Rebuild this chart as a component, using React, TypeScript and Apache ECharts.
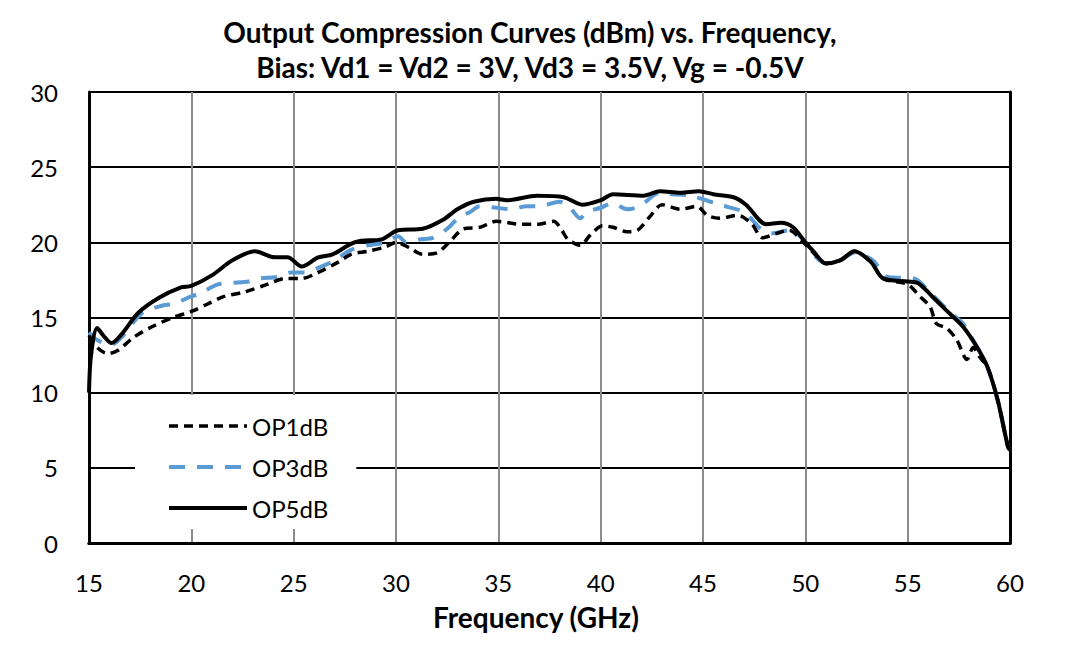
import React, { useEffect, useRef } from "react";
import * as echarts from "echarts";

const xTicks = [15, 20, 25, 30, 35, 40, 45, 50, 55, 60];
const yTicks = [0, 5, 10, 15, 20, 25, 30];

const freq5 = [15.0, 15.1, 15.4, 15.7, 16.1, 16.6, 17.4, 18.4, 19.5, 20.0, 21.0, 22.0, 23.1, 24.1, 24.7, 25.4, 26.2, 26.9, 27.8, 28.3, 29.3, 30.1, 31.3, 32.3, 33.0, 33.8, 34.9, 35.4, 36.9, 38.2, 39.1, 40.0, 40.6, 42.1, 42.9, 43.9, 44.8, 45.5, 46.5, 47.1, 48.1, 48.8, 49.4, 50.0, 50.4, 51.0, 51.7, 52.4, 53.2, 53.8, 55.0, 55.5, 56.2, 57.1, 57.7, 58.4, 58.9, 59.4, 59.9, 60.0];
const op5 = [10.0, 12.5, 14.3, 13.8, 13.3, 13.9, 15.3, 16.3, 17.0, 17.1, 17.8, 18.8, 19.4, 19.0, 19.0, 18.4, 19.0, 19.2, 19.9, 20.1, 20.2, 20.8, 20.9, 21.5, 22.2, 22.7, 22.9, 22.8, 23.1, 23.0, 22.5, 22.8, 23.2, 23.1, 23.4, 23.3, 23.4, 23.2, 23.0, 22.5, 21.2, 21.3, 21.0, 20.0, 19.4, 18.6, 18.8, 19.4, 18.7, 17.6, 17.4, 17.3, 16.4, 15.2, 14.4, 13.0, 11.7, 9.5, 6.4, 6.2];

const freq3 = [15.0, 15.4, 16.1, 16.6, 17.6, 18.6, 19.1, 20.0, 20.4, 21.3, 22.0, 22.8, 23.3, 24.2, 24.9, 25.6, 26.2, 27.0, 27.8, 28.6, 29.5, 30.1, 30.5, 31.2, 31.8, 32.5, 33.1, 33.6, 34.1, 34.9, 35.6, 36.4, 37.0, 38.0, 38.5, 39.0, 39.3, 40.0, 40.6, 41.3, 41.9, 42.9, 43.5, 44.4, 45.8, 47.0, 47.9, 48.4, 49.2, 49.9, 50.4, 51.0, 51.7, 52.4, 53.3, 54.0, 55.3, 56.2, 57.1, 57.7, 58.4, 58.9, 59.4, 59.9, 60.0];
const op3 = [14.0, 13.5, 13.2, 13.7, 15.3, 15.8, 15.9, 16.4, 16.6, 17.2, 17.3, 17.4, 17.6, 17.7, 18.0, 18.0, 18.3, 18.8, 19.5, 19.8, 20.0, 20.4, 20.0, 20.2, 20.3, 20.9, 21.7, 22.0, 22.4, 22.3, 22.2, 22.4, 22.4, 22.7, 22.3, 21.6, 22.0, 22.3, 22.6, 22.2, 22.4, 23.3, 23.2, 23.1, 22.5, 22.0, 20.8, 20.6, 20.8, 20.2, 19.2, 18.6, 18.8, 19.3, 18.8, 17.7, 17.6, 16.5, 15.3, 14.6, 13.0, 11.7, 9.5, 6.4, 6.2];

const freq1 = [15.0, 15.4, 15.9, 16.4, 17.2, 18.1, 19.1, 20.0, 20.8, 21.6, 22.6, 23.7, 24.6, 25.4, 26.2, 27.2, 27.8, 28.6, 29.5, 30.0, 30.7, 31.3, 32.0, 32.6, 33.3, 34.1, 34.9, 36.1, 36.9, 37.7, 38.1, 38.4, 39.0, 39.5, 40.1, 40.6, 41.3, 41.8, 42.4, 43.0, 43.9, 44.7, 45.2, 45.8, 46.7, 47.4, 47.9, 48.6, 49.2, 49.9, 50.4, 51.0, 51.7, 52.4, 53.2, 53.8, 55.0, 55.6, 56.1, 56.4, 56.9, 57.4, 57.9, 58.2, 58.5, 58.9, 59.4, 59.9, 60.0];
const op1 = [13.8, 13.0, 12.6, 12.8, 13.7, 14.4, 15.0, 15.4, 15.9, 16.4, 16.7, 17.2, 17.6, 17.6, 18.0, 18.7, 19.2, 19.4, 19.7, 20.0, 19.6, 19.2, 19.3, 20.0, 20.9, 21.0, 21.4, 21.2, 21.2, 21.4, 20.8, 20.2, 19.8, 20.5, 21.1, 21.0, 20.7, 20.8, 21.7, 22.5, 22.2, 22.4, 21.8, 21.6, 21.8, 21.2, 20.3, 20.6, 20.8, 20.0, 19.3, 18.6, 18.8, 19.4, 18.7, 17.6, 17.2, 16.4, 15.7, 14.6, 14.3, 13.5, 12.2, 13.0, 12.4, 11.7, 9.5, 6.4, 6.2];

const seriesNames = ["OP1dB", "OP3dB", "OP5dB"];
const titleText = "Output Compression Curves (dBm) vs. Frequency,\nBias: Vd1 = Vd2 = 3V, Vd3 = 3.5V, Vg = -0.5V";
const xName = "Frequency (GHz)";

const FONT = "Lato, 'Open Sans', sans-serif";

const zip = (xs: number[], ys: number[]) => xs.map((x, i) => [x, ys[i]]);

const styles = [
  { color: "#000", width: 3.5, type: [9, 6] as number[] | string },
  { color: "#5b9bd5", width: 4, type: [16, 12] as number[] | string },
  { color: "#000", width: 4, type: "solid" as number[] | string },
];

export default function App() {
  const ref = useRef<HTMLDivElement>(null);
  useEffect(() => {
    if (!ref.current) return;
    const chart = echarts.init(ref.current, undefined, { renderer: "svg" });
    const hiddenAxis = {
      show: true,
      axisLine: { show: true, lineStyle: { color: "#000", width: 3 } },
      axisTick: { show: false },
      axisLabel: { show: false },
      splitLine: { show: false },
    };
    const datasets = [zip(freq1, op1), zip(freq3, op3), zip(freq5, op5)];
    chart.setOption({
      animation: false,
      backgroundColor: "#fff",
      textStyle: { fontFamily: FONT },
      title: {
        text: titleText,
        left: 525,
        top: 9,
        textAlign: "center",
        textStyle: { fontSize: 28, fontWeight: "bold", color: "#000", lineHeight: 35, fontFamily: FONT },
      },
      grid: { left: 89, right: 55, top: 92, bottom: 113, containLabel: false },
      legend: {
        orient: "vertical",
        left: 135,
        top: 395,
        backgroundColor: "#fff",
        padding: [19, 28, 9, 32],
        itemWidth: 78,
        itemHeight: 24,
        itemGap: 17,
        itemStyle: { opacity: 0 },
        data: seriesNames.map((n, i) => ({
          name: n,
          itemStyle: { opacity: 0 },
          lineStyle: { color: styles[i].color, width: styles[i].width, type: styles[i].type },
        })),
        textStyle: { fontSize: 24, color: "#000", fontFamily: FONT, padding: [0, 0, 0, 0] },
      },
      graphic: [
        {
          type: "text",
          x: 536,
          y: 617,
          style: { text: xName, fontSize: 28, fontWeight: "bold", fill: "#000", fontFamily: FONT, align: "center", verticalAlign: "middle" },
        },
      ],
      xAxis: [
        {
          type: "value",
          min: 15,
          max: 60,
          interval: 5,
          axisLine: { show: true, lineStyle: { color: "#000", width: 3 } },
          axisTick: { show: false },
          axisLabel: { fontSize: 24, color: "#000", margin: 27, fontFamily: FONT, customValues: xTicks },
          splitLine: { show: true, lineStyle: { color: "#8c8c8c", width: 2 } },
        },
        { ...hiddenAxis, type: "value", position: "top", min: 15, max: 60 },
      ],
      yAxis: [
        {
          type: "value",
          min: 0,
          max: 30,
          interval: 5,
          axisLine: { show: true, lineStyle: { color: "#000", width: 3 } },
          axisTick: { show: false },
          axisLabel: { fontSize: 24, color: "#000", margin: 31, fontFamily: FONT, customValues: yTicks },
          splitLine: { show: true, lineStyle: { color: "#000", width: 2 } },
        },
        { ...hiddenAxis, type: "value", position: "right", min: 0, max: 30 },
      ],
      series: seriesNames.map((n, i) => ({
        name: n,
        type: "line",
        data: datasets[i],
        symbol: "none",
        smooth: 0.3,
        z: i === 1 ? 2 : i === 0 ? 3 : 4,
        itemStyle: { color: styles[i].color },
        lineStyle: { color: styles[i].color, width: styles[i].width, type: styles[i].type },
      })),
    });
    return () => chart.dispose();
  }, []);
  return <div ref={ref} style={{ position: "fixed", left: 0, top: 0, width: 1065, height: 656 }} />;
}
